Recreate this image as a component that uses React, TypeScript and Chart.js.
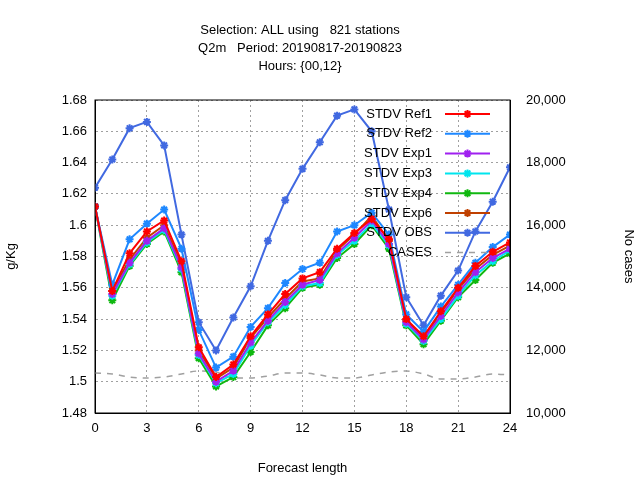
import React, { useRef, useEffect } from "react";
import { Chart, registerables } from "chart.js";

Chart.register(...registerables);

const hours = [0, 1, 2, 3, 4, 5, 6, 7, 8, 9, 10, 11, 12, 13, 14, 15, 16, 17, 18, 19, 20, 21, 22, 23, 24];

const ref1 = [1.612, 1.558, 1.582, 1.596, 1.603, 1.577, 1.522, 1.503, 1.511, 1.529, 1.543, 1.556, 1.566, 1.570, 1.585, 1.595, 1.604, 1.591, 1.540, 1.529, 1.545, 1.560, 1.574, 1.583, 1.589];
const ref2 = [1.612, 1.562, 1.591, 1.601, 1.610, 1.585, 1.533, 1.509, 1.516, 1.535, 1.547, 1.563, 1.572, 1.576, 1.596, 1.600, 1.608, 1.594, 1.543, 1.532, 1.548, 1.562, 1.576, 1.586, 1.594];
const exp1 = [1.612, 1.556, 1.576, 1.590, 1.598, 1.573, 1.518, 1.500, 1.507, 1.525, 1.539, 1.551, 1.562, 1.565, 1.582, 1.592, 1.603, 1.588, 1.538, 1.527, 1.542, 1.557, 1.570, 1.579, 1.585];
const exp3 = [1.612, 1.555, 1.575, 1.589, 1.597, 1.572, 1.517, 1.499, 1.505, 1.523, 1.538, 1.549, 1.561, 1.563, 1.581, 1.590, 1.601, 1.587, 1.537, 1.526, 1.540, 1.555, 1.568, 1.577, 1.584];
const exp4 = [1.612, 1.552, 1.574, 1.588, 1.596, 1.570, 1.515, 1.497, 1.503, 1.519, 1.536, 1.547, 1.560, 1.562, 1.579, 1.588, 1.600, 1.585, 1.536, 1.524, 1.539, 1.554, 1.565, 1.576, 1.582];
const exp6 = [1.612, 1.558, 1.578, 1.592, 1.600, 1.575, 1.520, 1.502, 1.509, 1.528, 1.541, 1.553, 1.564, 1.566, 1.584, 1.594, 1.606, 1.590, 1.539, 1.528, 1.544, 1.559, 1.572, 1.581, 1.587];
const obs = [1.624, 1.642, 1.662, 1.666, 1.651, 1.594, 1.538, 1.520, 1.541, 1.561, 1.590, 1.616, 1.636, 1.653, 1.670, 1.674, 1.660, 1.610, 1.554, 1.536, 1.555, 1.571, 1.596, 1.615, 1.637];
const cases = [11278, 11246, 11150, 11118, 11150, 11246, 11342, 11310, 11118, 11118, 11182, 11278, 11278, 11214, 11118, 11118, 11214, 11310, 11342, 11246, 11086, 11086, 11150, 11246, 11214];

const titleLines = ["Selection: ALL using   821 stations", "Q2m   Period: 20190817-20190823", "Hours: {00,12}"];

const FONT = "'Liberation Sans', Arial, sans-serif";

const series = [
  { label: "STDV Ref1", data: ref1, color: "#ff0000" },
  { label: "STDV Ref2", data: ref2, color: "#1e88ff" },
  { label: "STDV Exp1", data: exp1, color: "#a020f0" },
  { label: "STDV Exp3", data: exp3, color: "#00e5ee" },
  { label: "STDV Exp4", data: exp4, color: "#10b810" },
  { label: "STDV Exp6", data: exp6, color: "#c04000" },
  { label: "STDV OBS", data: obs, color: "#4169e1" },
];

// Titel, Rahmen und Legende im gnuplot-Stil
const decorPlugin = {
  id: "decor",
  afterDraw(chart: Chart) {
    const { ctx, chartArea } = chart;
    ctx.save();
    ctx.fillStyle = "#000";
    ctx.font = `13px ${FONT}`;
    ctx.textAlign = "center";
    ctx.textBaseline = "middle";
    titleLines.forEach((t, i) => ctx.fillText(t, 300, 30 + i * 18));

    ctx.strokeStyle = "#000";
    ctx.lineWidth = 1;
    ctx.strokeRect(chartArea.left, chartArea.top, chartArea.right - chartArea.left, chartArea.bottom - chartArea.top);

    ctx.textAlign = "right";
    chart.data.datasets.forEach((ds: any, i: number) => {
      const y = 114 + i * 19.8;
      ctx.fillStyle = "#000";
      ctx.fillText(ds.label, 432, y);
      ctx.strokeStyle = ds.borderColor;
      ctx.lineWidth = ds.borderWidth;
      ctx.setLineDash(ds.borderDash || []);
      ctx.beginPath();
      ctx.moveTo(445, y);
      ctx.lineTo(490, y);
      ctx.stroke();
      ctx.setLineDash([]);
      if (ds.pointRadius > 0) {
        ctx.lineWidth = 2;
        const r = 4;
        ctx.beginPath();
        for (let k = 0; k < 4; k++) {
          const a = (k * Math.PI) / 4;
          ctx.moveTo(467.5 - r * Math.cos(a), y - r * Math.sin(a));
          ctx.lineTo(467.5 + r * Math.cos(a), y + r * Math.sin(a));
        }
        ctx.stroke();
      }
    });
    ctx.restore();
  },
};

const App: React.FC = () => {
  const chartRef = useRef<HTMLCanvasElement>(null);
  const chartInstance = useRef<Chart | null>(null);

  useEffect(() => {
    if (!chartRef.current) return;
    if (chartInstance.current) chartInstance.current.destroy();
    const ctx = chartRef.current.getContext("2d");
    if (!ctx) return;

    const datasets: any[] = series.map((s) => ({
      label: s.label,
      data: hours.map((h, i) => ({ x: h, y: s.data[i] })),
      borderColor: s.color,
      backgroundColor: s.color,
      borderWidth: 2,
      pointStyle: "star",
      pointRadius: 4,
      pointBorderWidth: 2,
      yAxisID: "y",
    }));
    datasets.push({
      label: "CASES",
      data: hours.map((h, i) => ({ x: h, y: cases[i] })),
      borderColor: "#a0a0a0",
      backgroundColor: "#a0a0a0",
      borderWidth: 1.5,
      borderDash: [6, 6],
      pointRadius: 0,
      cubicInterpolationMode: "monotone",
      yAxisID: "y2",
    });

    const gridStyle = { color: "#a0a0a0", lineWidth: 1, drawTicks: false, tickBorderDash: [2, 3] };

    chartInstance.current = new Chart(ctx, {
      type: "line",
      data: { datasets },
      plugins: [decorPlugin],
      options: {
        responsive: false,
        animation: false,
        layout: { padding: { top: 100, left: 0, right: 0, bottom: 0 } },
        plugins: { legend: { display: false }, tooltip: { enabled: false } },
        scales: {
          x: {
            type: "linear",
            min: 0,
            max: 24,
            ticks: { stepSize: 3, color: "#000", font: { family: FONT, size: 13 }, padding: 8 },
            grid: { ...gridStyle, borderDash: [2, 3] } as any,
            border: { color: "#000", dash: [2, 3] } as any,
            title: { display: true, text: "Forecast length", color: "#000", font: { family: FONT, size: 13 }, padding: { top: 6 } },
            afterFit: (s: any) => { s.height = 67; },
          },
          y: {
            position: "left",
            min: 1.48,
            max: 1.68,
            ticks: {
              stepSize: 0.02,
              color: "#000",
              font: { family: FONT, size: 13 },
              padding: 8,
              callback: (v: any) => String(Number(Number(v).toFixed(2))),
            },
            grid: { ...gridStyle, borderDash: [2, 3] } as any,
            border: { color: "#000", dash: [2, 3] } as any,
            title: { display: true, text: "g/Kg", color: "#000", font: { family: FONT, size: 13 } },
            afterFit: (s: any) => { s.width = 95; },
          },
          y2: {
            position: "right",
            min: 10000,
            max: 20000,
            ticks: { stepSize: 2000, color: "#000", font: { family: FONT, size: 13 }, padding: 8 },
            grid: { display: false },
            border: { color: "#000" },
            title: { display: true, text: "No cases", color: "#000", font: { family: FONT, size: 13 } },
            afterFit: (s: any) => { s.width = 130; },
          },
        },
      } as any,
    });

    return () => {
      if (chartInstance.current) chartInstance.current.destroy();
    };
  }, []);

  return (
    <div style={{ position: "absolute", left: 0, top: 0, width: 640, height: 480, background: "#fff" }}>
      <canvas ref={chartRef} width={640} height={480}></canvas>
    </div>
  );
};

export default App;
